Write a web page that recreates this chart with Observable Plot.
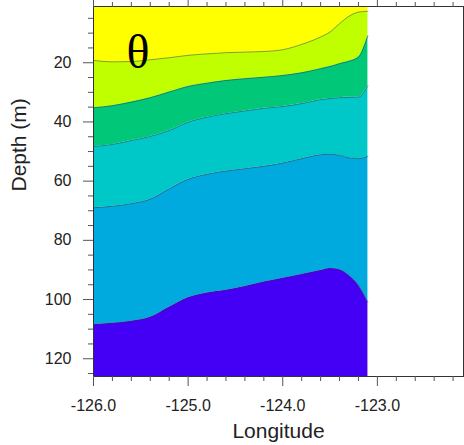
<!DOCTYPE html>
<html>
<head>
<meta charset="utf-8">
<script src="https://cdn.jsdelivr.net/npm/d3@7"></script>
<script src="https://cdn.jsdelivr.net/npm/@observablehq/plot@0.6"></script>
<style>
  html, body { margin: 0; padding: 0; background: white; }
  #chart svg { display: block; }
</style>
</head>
<body>
<div id="chart"></div>
<script>
// Cross-shore section of potential temperature (θ): longitude vs depth.
// Each isotherm is given as its depth (m) at the section's longitudes.
const lon = [-126.0, -125.8, -125.6, -125.4, -125.2, -125.0, -124.8, -124.6, -124.4,
             -124.2, -124.0, -123.8, -123.6, -123.5, -123.4, -123.3, -123.2, -123.1];

const iso1 = [19.2, 19.7, 19.6, 19.0, 18.3, 17.5, 17.0, 16.6, 16.4, 16.2, 15.6, 13.8, 11.3, 9.6, 6.8, 4.3, 2.9, 2.6];
const iso2 = [35.2, 34.5, 33.3, 31.8, 29.9, 28.0, 26.9, 26.0, 25.4, 24.9, 24.3, 23.4, 22.0, 21.3, 20.3, 19.5, 18.1, 10.8];
const iso3 = [48.3, 47.6, 46.3, 44.9, 42.9, 40.1, 38.4, 37.2, 36.3, 35.4, 34.8, 33.8, 32.5, 32.1, 31.8, 31.7, 31.6, 27.7];
const iso4 = [69.0, 68.5, 67.6, 66.1, 62.6, 59.4, 57.7, 56.6, 55.8, 55.0, 53.9, 52.4, 51.1, 50.9, 51.3, 52.1, 52.4, 51.6];
const iso5 = [108.5, 108.0, 107.3, 106.0, 102.6, 99.4, 97.8, 96.9, 95.6, 94.1, 92.8, 91.5, 90.2, 89.5, 89.9, 91.9, 95.2, 100.9];

// Depth span of the section and longitude span of the panel
const depthTop = 1;
const depthBottom = 126;
const lonDomain = [-126, -122.09];

// Band fills, warmest (surface) to coldest (bottom)
const bandColors = ["#ffff00", "#bfff00", "#00c878", "#00c8c8", "#00aade", "#4300f5"];

// Axis ticks
const xMajor = [-126, -125, -124, -123];
const xMinor = [-125.8, -125.6, -125.4, -125.2, -124.8, -124.6, -124.4, -124.2,
                -123.8, -123.6, -123.4, -123.2, -122.8, -122.6, -122.4, -122.2];
const yMajor = [20, 40, 60, 80, 100, 120];
const yMinor = [5, 10, 15, 25, 30, 35, 45, 50, 55, 65, 70, 75, 85, 90, 95, 105, 110, 115, 125];

const xTitle = "Longitude";
const yTitle = "Depth (m)";
const panelLabel = "θ";

// Band edges: surface, the isotherms, then the bottom of the section
const surface = lon.map(() => depthTop);
const floor = lon.map(() => depthBottom);
const edges = [surface, iso1, iso2, iso3, iso4, iso5, floor];
const isotherms = [iso1, iso2, iso3, iso4, iso5];

const bandRows = bandColors.map((color, i) =>
  lon.map((x, j) => ({lon: x, top: edges[i][j], bottom: edges[i + 1][j]}))
);
const lineRows = isotherms.map(iso => lon.map((x, j) => ({lon: x, depth: iso[j]})));

const tickColor = "#555";
const noLabel = () => "";

const chart = Plot.plot({
  width: 464,
  height: 445,
  marginLeft: 93,
  marginRight: 1,
  marginTop: 6,
  marginBottom: 69,
  style: {fontFamily: "'Liberation Sans', Arial, Helvetica, sans-serif", fontSize: "16px", color: "#222", background: "white"},
  x: {domain: lonDomain},
  y: {domain: [depthTop, depthBottom], reverse: true},
  marks: [
    ...bandRows.map((rows, i) =>
      Plot.areaY(rows, {x: "lon", y1: "top", y2: "bottom", fill: bandColors[i], curve: "monotone-x"})
    ),
    ...lineRows.map(rows =>
      Plot.line(rows, {x: "lon", y: "depth", stroke: "#333", strokeWidth: 0.6, strokeOpacity: 0.75, curve: "monotone-x"})
    ),
    Plot.text([{lon: -125.53, depth: 16.7, label: panelLabel}], {
      x: "lon", y: "depth", text: "label",
      fontFamily: "'Liberation Serif', 'Times New Roman', serif", fontSize: 48, fill: "#000"
    }),
    Plot.frame({stroke: "#333", strokeWidth: 1}),
    // bottom axis
    Plot.axisX(xMajor, {anchor: "bottom", tickSize: 10, tickPadding: 13, stroke: tickColor,
      tickFormat: d => d.toFixed(1), label: null, fontSize: 16}),
    Plot.axisX(xMinor, {anchor: "bottom", tickSize: 5, stroke: tickColor, tickFormat: noLabel, label: null}),
    // top axis
    Plot.axisX(xMajor, {anchor: "top", tickSize: 10, stroke: tickColor, tickFormat: noLabel, label: null}),
    Plot.axisX(xMinor, {anchor: "top", tickSize: 5, stroke: tickColor, tickFormat: noLabel, label: null}),
    // left axis
    Plot.axisY(yMajor, {anchor: "left", tickSize: 10, tickPadding: 12, stroke: tickColor,
      label: null, fontSize: 16}),
    Plot.axisY(yMinor, {anchor: "left", tickSize: 5, stroke: tickColor, tickFormat: noLabel, label: null}),
    // right axis
    Plot.axisY(yMajor, {anchor: "right", tickSize: 10, stroke: tickColor, tickFormat: noLabel, label: null}),
    Plot.axisY(yMinor, {anchor: "right", tickSize: 5, stroke: tickColor, tickFormat: noLabel, label: null}),
    // axis titles
    Plot.text([xTitle], {frameAnchor: "bottom", dy: 55, fontSize: 21, fill: "#222", lineAnchor: "middle"}),
    Plot.text([yTitle], {frameAnchor: "left", dx: -74, rotate: -90, fontSize: 21, fill: "#222", lineAnchor: "middle"})
  ]
});

document.getElementById("chart").appendChild(chart);
</script>
</body>
</html>
